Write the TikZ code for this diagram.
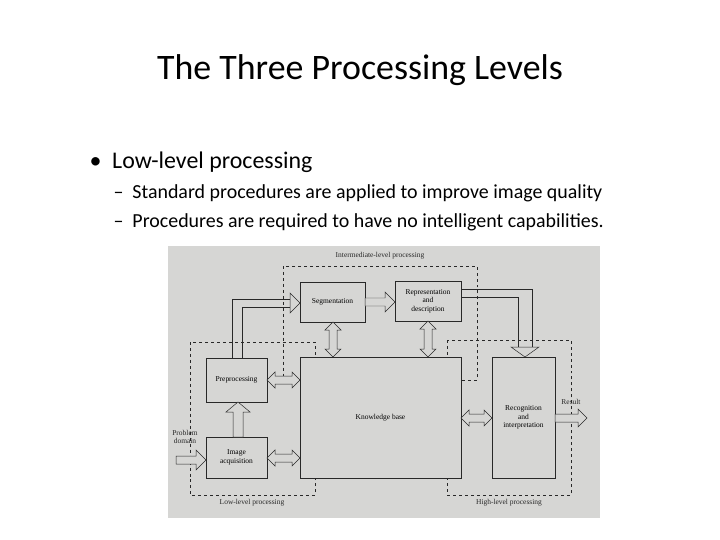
\documentclass[tikz,border=0pt]{standalone}
\usepackage{fontspec}
\setmainfont{Carlito}
\newfontfamily\scanfont{Liberation Serif}
\usepackage{tikz}
\usetikzlibrary{positioning}

\definecolor{scan}{RGB}{214,214,212}
\definecolor{ink}{RGB}{40,40,40}
\tikzset{
	procbox/.style={draw=ink,line width=0.6pt,fill=scan,inner sep=1pt,align=center,font=\scanfont\fontsize{7.5}{8.5}\selectfont},
	levelbox/.style={draw=ink,dashed,line width=0.6pt},
	fatarrow/.style={draw=ink,line width=0.5pt,fill=scan},
	scantext/.style={text=ink,font=\scanfont\fontsize{7.5}{8.5}\selectfont,align=center}
}
% hollow double arrows, horizontal and vertical
\newcommand{\dblarrowh}[3]{%
	\filldraw[fatarrow] (#1,#3) -- ++(8,-8) -- ++(0,4) -- (#2-8,#3-4) -- ++(0,-4) -- (#2,#3) -- ++(-8,8) -- ++(0,-4) -- (#1+8,#3+4) -- ++(0,4) -- cycle;}
\newcommand{\dblarrowv}[3]{%
	\filldraw[fatarrow] (#3,#1) -- ++(-8,8) -- ++(4,0) -- (#3-4,#2-8) -- ++(-4,0) -- (#3,#2) -- ++(8,-8) -- ++(-4,0) -- (#3+4,#1+8) -- ++(4,0) -- cycle;}

\begin{document}
\begin{tikzpicture}[x=1bp,y=-1bp]
	\useasboundingbox (0,0) rectangle (720,540);
	\fill[white] (0,0) rectangle (720,540);

	% slide text
	\node[font=\fontsize{36}{40}\selectfont] (title) at (360,70) {The Three Processing Levels};
	\node[anchor=west,font=\fontsize{24}{28}\selectfont] (b1) at (86,162) {\textbullet\ \ Low-level processing};
	\node[anchor=west,font=\fontsize{20}{24}\selectfont] (b2) at (110,193) {--\ \ Standard procedures are applied to improve image quality};
	\node[anchor=west,font=\fontsize{20}{24}\selectfont] (b3) at (110,222) {--\ \ Procedures are required to have no intelligent capabilities.};

	% scanned figure
	\fill[scan] (168,246) rectangle (600,518);

	\draw[levelbox] (283,266) rectangle (477,380);
	\draw[levelbox] (190,342) rectangle (315,495);
	\draw[levelbox] (447,340) rectangle (571,495);
	\node[scantext] (ilp) at (380,256) {Intermediate-level processing};
	\node[scantext] (llp) at (252,503) {Low-level processing};
	\node[scantext] (hlp) at (509,503) {High-level processing};

	\node[procbox,minimum width=65bp,minimum height=40bp] (seg) at (332.5,302) {Segmentation};
	\node[procbox,minimum width=66bp,minimum height=40bp] (rep) at (428,301) {Representation\\and\\description};
	\node[procbox,minimum width=61bp,minimum height=44bp] (pre) at (236.5,380) {Preprocessing};
	\node[procbox,minimum width=61bp,minimum height=41bp] (acq) at (236.5,457.5) {Image\\acquisition};
	\node[procbox,minimum width=161bp,minimum height=121bp] (kb) at (380.5,417.5) {Knowledge base};
	\node[procbox,minimum width=63bp,minimum height=121bp] (rec) at (523.5,417.5) {Recognition\\and\\interpretation};

	\node[scantext,inner sep=0pt] (dom) at (185,437) {Problem\\domain};
	\node[scantext,inner sep=0pt] (res) at (571,402) {Result};

	% one-way flows
	\draw[ink,line width=0.5pt] (232,358) |- (290,299);
	\draw[ink,line width=0.5pt] (242,358) |- (290,307);
	\filldraw[fatarrow] (290,293) -- (300,303) -- (290,313) -- cycle;
	\filldraw[fatarrow] (365,298) -- (385,298) -- ++(0,-6) -- (395,302) -- (385,312) -- ++(0,-6) -- (365,306) -- cycle;
	\draw[ink,line width=0.5pt] (461,289) -- (532,289) -- (532,347);
	\draw[ink,line width=0.5pt] (461,297) -- (518,297) -- (518,347);
	\filldraw[fatarrow] (511,347) -- (539,347) -- (525,357) -- cycle;
	\filldraw[fatarrow] (233,437) -- (233,412) -- ++(-7,0) -- (238,402) -- (250,412) -- ++(-7,0) -- (243,437) -- cycle;
	\filldraw[fatarrow] (176,456) -- (196,456) -- ++(0,-6) -- (206,460) -- (196,470) -- ++(0,-6) -- (176,464) -- cycle;
	\filldraw[fatarrow] (555,414) -- (578,414) -- ++(0,-5) -- (587,418) -- (578,427) -- ++(0,-5) -- (555,422) -- cycle;

	% two-way flows with the knowledge base
	\dblarrowh{267}{300}{380}
	\dblarrowh{267}{300}{458}
	\dblarrowh{461}{492}{418}
	\dblarrowv{322}{357}{333}
	\dblarrowv{321}{357}{428}
\end{tikzpicture}
\end{document}
